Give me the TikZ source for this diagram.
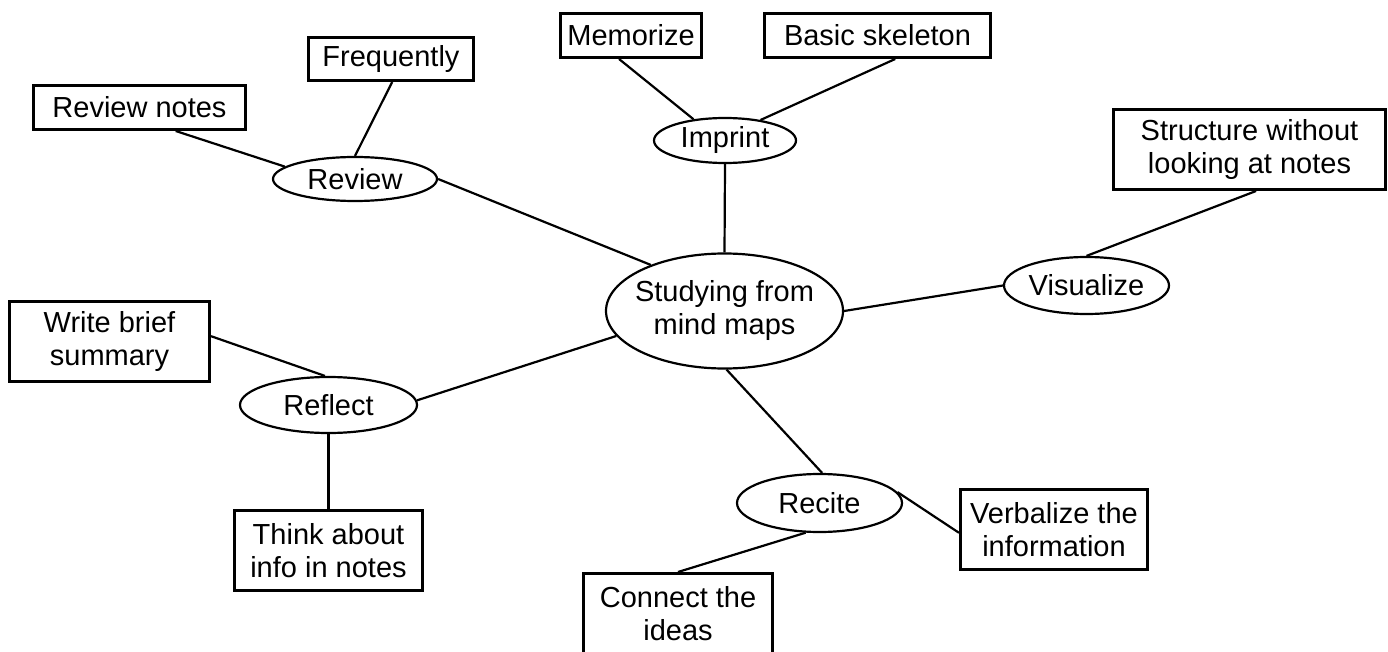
\documentclass[tikz,border=0pt]{standalone}
\usepackage{fontspec}
\setmainfont{Liberation Sans}
\usetikzlibrary{shapes.geometric}
\begin{document}
\begin{tikzpicture}[x=1pt,y=-1pt]
\tikzset{
  every node/.style={font=\fontsize{29}{33}\selectfont, inner sep=0pt, align=center},
  leaf/.style={draw, rectangle, line width=3pt},
  hub/.style={draw, ellipse, line width=2.2pt},
  link/.style={line width=2.2pt},
}
\useasboundingbox (0,0) rectangle (1388,652);
% hub nodes
\node[hub, minimum width=237pt, minimum height=115pt, inner xsep=-10pt] (center) at (724.5,311) {Studying from\\mind maps};
\node[hub, minimum width=164pt, minimum height=44pt] (review) at (355,179) {Review};
\node[hub, minimum width=142pt, minimum height=45pt] (imprint) at (725,140.5) {Imprint};
\node[hub, minimum width=165pt, minimum height=57pt] (visualize) at (1086.5,285.5) {Visualize};
\node[hub, minimum width=177pt, minimum height=56pt] (reflect) at (328.5,405) {Reflect};
\node[hub, minimum width=165pt, minimum height=58pt] (recite) at (819.5,503) {Recite};
% leaf boxes
\node[leaf, minimum width=212pt, minimum height=44pt] (reviewnotes) at (139.5,107.5) {Review notes};
\node[leaf, minimum width=165pt, minimum height=43pt] (frequently) at (391,59) {Frequently};
\node[leaf, minimum width=141pt, minimum height=44pt] (memorize) at (631,35.5) {Memorize};
\node[leaf, minimum width=226pt, minimum height=44pt] (skeleton) at (877.5,35.5) {Basic skeleton};
\node[leaf, minimum width=272pt, minimum height=80pt] (structure) at (1249.5,149.5) {Structure without\\looking at notes};
\node[leaf, minimum width=200pt, minimum height=80pt] (writebrief) at (109.5,341.5) {Write brief\\summary};
\node[leaf, minimum width=188pt, minimum height=80pt] (think) at (328.5,550.5) {Think about\\info in notes};
\node[leaf, minimum width=189pt, minimum height=80pt] (connect) at (678,613.5) {Connect the\\ideas};
\node[leaf, minimum width=187pt, minimum height=80pt] (verbalize) at (1054,529.5) {Verbalize the\\information};
% connectors
\draw[link] (reviewnotes.-33.5) -- (review.170.5);
\draw[link] (frequently.-87.5) -- (review.90);
\draw[link] (review.0) -- (center.148.7);
\draw[link] (memorize.-117) -- (imprint.146.9);
\draw[link] (skeleton.-53.3) -- (imprint.30.2);
\draw[link] (imprint.south) -- (center.north);
\draw[link] (structure.-81.1) -- (visualize.90);
\draw[link] (visualize.180) -- (center.0);
\draw[link] (writebrief.3.1) -- (reflect.97);
\draw[link] (reflect.3) -- (center.193.6);
\draw[link] (reflect.south) -- (think.north);
\draw[link] (center.-88) -- (recite.85);
\draw[link] (recite.8.3) -- (verbalize.182);
\draw[link] (recite.-115.8) -- (connect.90);
\end{tikzpicture}
\end{document}
